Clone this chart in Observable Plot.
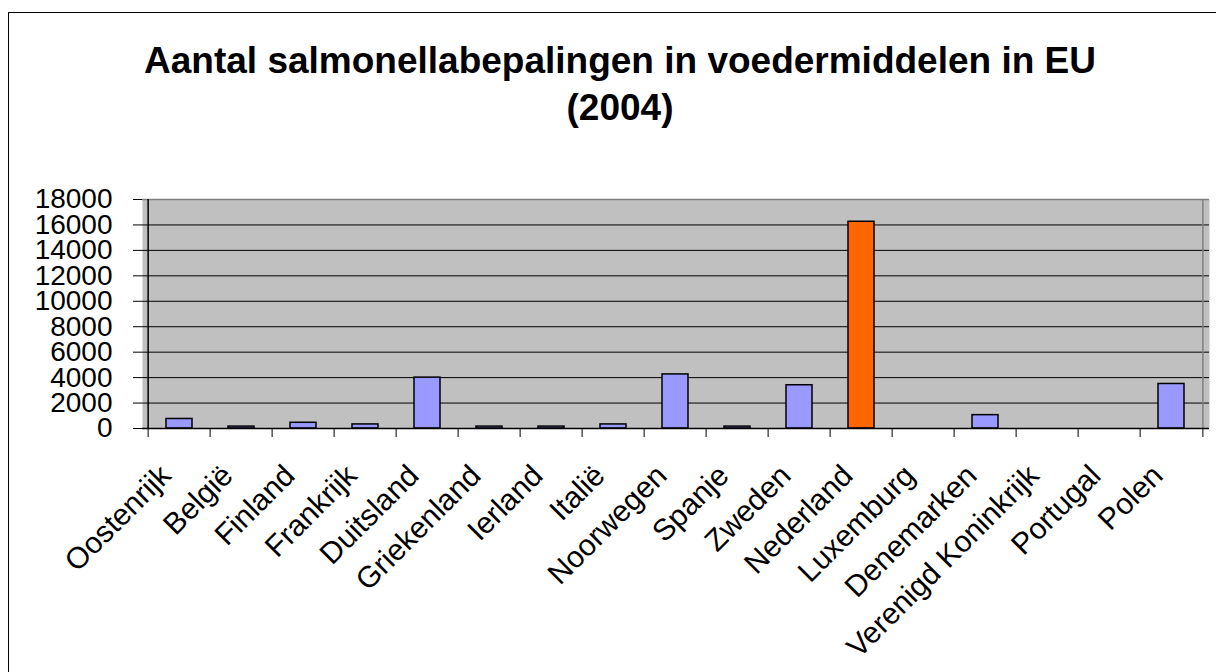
<!DOCTYPE html>
<html>
<head>
<meta charset="utf-8">
<script src="https://cdn.jsdelivr.net/npm/d3@7"></script>
<script src="https://cdn.jsdelivr.net/npm/@observablehq/plot@0.6"></script>
<style>
  html, body { margin: 0; padding: 0; background: #fff; overflow: hidden; width: 1216px; height: 672px; }
  body { font-family: "Liberation Sans", Arial, sans-serif; position: relative; }
  #frame { position: absolute; left: 8px; top: 12px; width: 1400px; height: 900px; border: 1.5px solid #000; box-sizing: border-box; }
  #title { position: absolute; left: 0; top: 37px; width: 1240px; text-align: center; font-size: 37px; font-weight: bold; line-height: 47px; color: #000; }
  #chart { position: absolute; left: 0; top: 150px; }
</style>
</head>
<body>
<div id="frame"></div>
<div id="title">Aantal salmonellabepalingen in voedermiddelen in EU<br>(2004)</div>
<div id="chart"></div>
<script>
const countries = ["Oostenrijk", "België", "Finland", "Frankrijk", "Duitsland", "Griekenland", "Ierland", "Italië", "Noorwegen", "Spanje", "Zweden", "Nederland", "Luxemburg", "Denemarken", "Verenigd Koninkrijk", "Portugal", "Polen"];
const values = [750, 150, 450, 320, 4000, 150, 150, 320, 4250, 150, 3400, 16250, 0, 1050, 0, 0, 3500];
const yTicks = [0, 2000, 4000, 6000, 8000, 10000, 12000, 14000, 16000, 18000];
const highlight = "Nederland";

const data = countries.map((c, i) => ({country: c, value: values[i]}));

const W = 1216, H = 522;
const mL = 142, mR = 7, mT = 49, mB = 244;
const step = (W - mL - mR) / countries.length;
const frameH = H - mT - mB;

const chart = Plot.plot({
  width: W,
  height: H,
  marginLeft: mL,
  marginRight: mR,
  marginTop: mT,
  marginBottom: mB,
  style: {fontFamily: "'Liberation Sans', Arial, sans-serif", color: "#000", background: "transparent"},
  x: {domain: countries, paddingInner: 0.576, paddingOuter: 0.288, axis: null},
  y: {domain: [0, 18000], axis: null},
  marks: [
    Plot.frame({fill: "#C0C0C0", stroke: null}),
    Plot.ruleY(yTicks.filter(t => t < 18000), {stroke: "#000", strokeWidth: 1}),
    Plot.ruleY([18000], {stroke: "#808080", strokeWidth: 1.5}),
    Plot.ruleX([countries[countries.length - 1]], {dx: step / 2, stroke: "#808080", strokeWidth: 1.5}),
    Plot.barY(data.filter(d => d.value > 0), {
      x: "country", y: "value",
      fill: d => d.country === highlight ? "#FF6600" : "#9999FF",
      stroke: "#000", strokeWidth: 1.5
    }),
    Plot.ruleX([countries[0]], {dx: -step / 2, stroke: "#000", strokeWidth: 1.5}),
    Plot.ruleY([0], {stroke: "#000", strokeWidth: 1.5}),
    Plot.ruleX(countries, {dx: -step / 2, dy: 9, insetTop: frameH - 9, stroke: "#000", strokeWidth: 1}),
    Plot.ruleX([countries[countries.length - 1]], {dx: step / 2, dy: 9, insetTop: frameH - 9, stroke: "#000", strokeWidth: 1}),
    Plot.axisY({ticks: yTicks, tickSize: 9, tickPadding: 21, fontSize: 28, tickFormat: d => String(d), label: null, stroke: "#000"}),
    Plot.text(countries, {
      x: d => d, text: d => d, frameAnchor: "bottom",
      rotate: -45, textAnchor: "end", lineAnchor: "bottom",
      dx: -7, dy: 49, fontSize: 30, fill: "#000"
    })
  ]
});
document.getElementById("chart").appendChild(chart);
</script>
</body>
</html>
